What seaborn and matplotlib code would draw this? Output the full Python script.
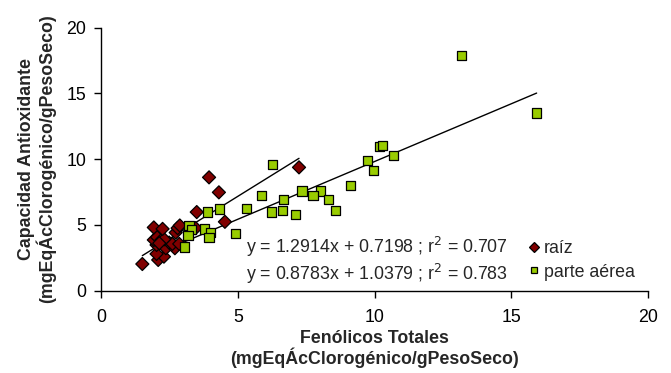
import matplotlib
matplotlib.use("Agg")
import matplotlib.pyplot as plt
import numpy as np
import pandas as pd
import seaborn as sns

# raíz (diamonds)
raiz_x = [1.50, 2.08, 2.29, 2.02, 2.36, 2.69, 2.02, 2.48, 2.60, 2.85, 1.92, 2.04, 2.20,
          2.30, 2.12, 2.72, 2.79, 2.87, 1.92, 2.24, 3.45, 3.49, 4.52, 4.30, 3.94, 7.23]
raiz_y = [2.02, 2.33, 2.58, 2.79, 3.22, 3.22, 3.47, 3.65, 3.55, 3.55, 3.85, 4.06, 3.85,
          3.90, 3.60, 4.41, 4.75, 4.95, 4.80, 4.69, 4.75, 5.97, 5.23, 7.47, 8.61, 9.37]

# parte aérea (squares)
aerea_x = [13.18, 15.92, 10.18, 10.29, 10.69, 9.73, 9.94, 9.12, 8.01, 7.34, 7.74, 8.31,
           8.56, 6.65, 6.63, 7.09, 6.26, 5.87, 5.32, 6.22, 4.90, 3.89, 4.31, 3.21, 3.30,
           3.78, 3.99, 3.94, 3.17, 3.04]
aerea_y = [17.85, 13.50, 10.98, 11.05, 10.29, 9.89, 9.15, 8.00, 7.57, 7.57, 7.24, 6.93,
           6.09, 6.91, 6.07, 5.76, 9.58, 7.24, 6.27, 5.97, 4.37, 5.97, 6.20, 4.95, 4.67,
           4.69, 4.44, 4.03, 4.16, 3.32]

# trend lines (slope, intercept, r2) as printed on the chart
fit_raiz = (1.2914, 0.7198, 0.707)
fit_aerea = (0.8783, 1.0379, 0.783)

df = pd.DataFrame({
    "x": raiz_x + aerea_x,
    "y": raiz_y + aerea_y,
    "grupo": ["raíz"] * len(raiz_x) + ["parte aérea"] * len(aerea_x),
})

sns.set_style("ticks")
plt.rcParams["font.family"] = ["Liberation Sans", "DejaVu Sans"]
fs = 12.8

fig = plt.figure(figsize=(6.71, 3.73), dpi=100)
ax = fig.add_axes([0.151, 0.221, 0.815, 0.705])

sns.scatterplot(data=df, x="x", y="y", hue="grupo", style="grupo",
                markers={"raíz": "D", "parte aérea": "s"},
                palette={"raíz": "#800000", "parte aérea": "#99CC00"},
                s=44, edgecolor="black", linewidth=0.9, ax=ax, zorder=3)

# trend lines over each series' range
for xs, (m, b, _) in [(raiz_x, fit_raiz), (aerea_x, fit_aerea)]:
    xl = np.array([min(xs), max(xs)])
    ax.plot(xl, m * xl + b, color="black", lw=1, zorder=2)

ax.set_xlim(0, 20)
ax.set_ylim(0, 20)
ax.set_xticks([0, 5, 10, 15, 20])
ax.set_yticks([0, 5, 10, 15, 20])
ax.tick_params(direction="out", length=5, width=1, labelsize=fs, colors="black")
ax.tick_params(axis="x", pad=8)
ax.tick_params(axis="y", pad=6)
for s in ["top", "right"]:
    ax.spines[s].set_visible(False)
for s in ["left", "bottom"]:
    ax.spines[s].set_linewidth(1)
    ax.spines[s].set_color("black")

ax.set_xlabel("Fenólicos Totales\n(mgEqÁcClorogénico/gPesoSeco)",
              fontsize=fs, fontweight="bold", labelpad=3, linespacing=1.05)
ax.set_ylabel("Capacidad Antioxidante\n(mgEqÁcClorogénico/gPesoSeco)",
              fontsize=fs, fontweight="bold", labelpad=7, linespacing=1.05)

ax.text(0.264, 0.165, "y = %.4fx + %.4f ; r$^2$ = %.3f" % fit_raiz,
        transform=ax.transAxes, fontsize=fs, va="center")
ax.text(0.264, 0.063, "y = %.4fx + %.4f ; r$^2$ = %.3f" % fit_aerea,
        transform=ax.transAxes, fontsize=fs, va="center")

handles, labels = ax.get_legend_handles_labels()
for h in handles:
    h.set_markersize(5)
ax.legend(handles, labels, loc="center left", bbox_to_anchor=(0.779, 0.114),
          frameon=False, fontsize=fs, handletextpad=0.15, labelspacing=0.35,
          handlelength=0.8, borderpad=0, borderaxespad=0)

fig.savefig("out.png", dpi=100)
plt.close(fig)
